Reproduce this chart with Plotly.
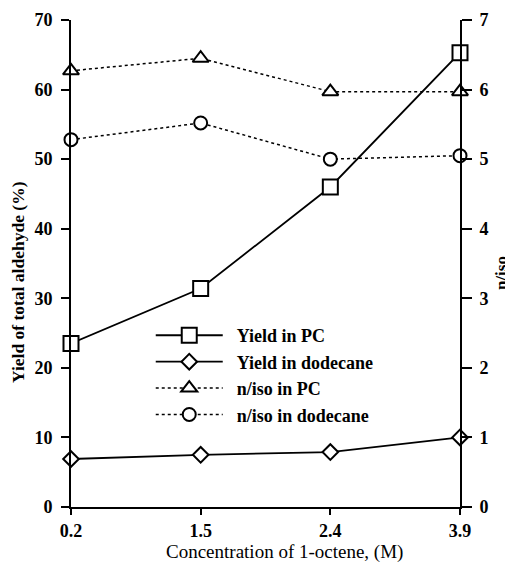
import plotly.graph_objects as go

categories = ["0.2", "1.5", "2.4", "3.9"]
yield_pc = [23.5, 31.4, 46.0, 65.3]
yield_dodecane = [6.9, 7.5, 7.9, 10.0]
niso_pc = [6.27, 6.45, 5.97, 5.97]
niso_dodecane = [5.28, 5.52, 5.0, 5.05]
left_ticks = [0, 10, 20, 30, 40, 50, 60, 70]
right_ticks = [0, 1, 2, 3, 4, 5, 6, 7]

xpos = list(range(len(categories)))
font = "Liberation Serif, Times New Roman, serif"
pad = "\u00a0\u00a0"

fig = go.Figure()
fig.add_trace(go.Scatter(
    x=xpos, y=yield_pc, name=pad + "<b>Yield in PC</b>", mode="lines+markers",
    line=dict(color="black", width=1.8),
    marker=dict(symbol="square", size=15, color="white", line=dict(color="black", width=2)),
    cliponaxis=False))
fig.add_trace(go.Scatter(
    x=xpos, y=yield_dodecane, name=pad + "<b>Yield in dodecane</b>", mode="lines+markers",
    line=dict(color="black", width=1.8),
    marker=dict(symbol="diamond", size=12, color="white", line=dict(color="black", width=2)),
    cliponaxis=False))
fig.add_trace(go.Scatter(
    x=xpos, y=niso_pc, name=pad + "<b>n/iso in PC</b>", mode="lines+markers", yaxis="y2",
    line=dict(color="black", width=1.5, dash="dot"),
    marker=dict(symbol="triangle-up", size=14, color="white", line=dict(color="black", width=2)),
    cliponaxis=False))
fig.add_trace(go.Scatter(
    x=xpos, y=niso_dodecane, name=pad + "<b>n/iso in dodecane</b>", mode="lines+markers", yaxis="y2",
    line=dict(color="black", width=1.5, dash="dot"),
    marker=dict(symbol="circle", size=13, color="white", line=dict(color="black", width=2)),
    cliponaxis=False))

axis_common = dict(showline=True, linecolor="black", linewidth=2, ticks="outside",
                   tickwidth=2, tickcolor="black", showgrid=False, zeroline=False,
                   automargin=False, tickfont=dict(size=18))

fig.update_layout(
    width=505, height=557,
    margin=dict(l=63, r=53, t=12, b=58),
    plot_bgcolor="white", paper_bgcolor="white",
    font=dict(family=font, size=18, color="black"),
    showlegend=True,
    legend=dict(x=0.205, y=0.39, xanchor="left", yanchor="top",
                bgcolor="rgba(0,0,0,0)", font=dict(size=18, family=font),
                itemwidth=67, tracegroupgap=0),
    xaxis=dict(
        range=[0, 3], tickvals=xpos, ticktext=["<b>%s</b>" % c for c in categories],
        ticklen=6, **axis_common),
    yaxis=dict(
        range=[0, 70], tickvals=left_ticks, ticktext=["<b>%d</b>" % v for v in left_ticks],
        ticklen=8, ticklabelstandoff=5, **axis_common),
    yaxis2=dict(
        range=[0, 7], tickvals=right_ticks, ticktext=["<b>%d</b>" % v for v in right_ticks],
        overlaying="y", side="right", ticklen=10, ticklabelstandoff=4, **axis_common),
    annotations=[
        dict(text="Concentration of 1-octene, (M)", xref="paper", yref="paper",
             x=0.548, y=-0.092, showarrow=False, xanchor="center", yanchor="middle",
             font=dict(size=19)),
        dict(text="<b>Yield of total aldehyde (%)</b>", xref="paper", yref="paper",
             x=-0.136, y=0.462, showarrow=False, textangle=-90,
             xanchor="center", yanchor="middle", font=dict(size=17.5)),
        dict(text="<b>n/iso</b>", xref="paper", yref="paper",
             x=1.105, y=0.48, showarrow=False, textangle=-90,
             xanchor="center", yanchor="middle", font=dict(size=17)),
    ],
)

fig.write_html("out.html")
